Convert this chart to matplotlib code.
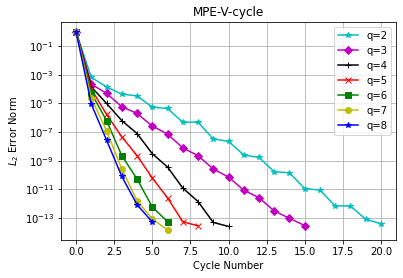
import numpy as np
import matplotlib
matplotlib.use("Agg")
import matplotlib.pyplot as plt
from matplotlib.ticker import NullLocator

labels = ["q=2", "q=3", "q=4", "q=5", "q=6", "q=7", "q=8"]
fmts = ["c*-", "mD-", "k+-", "rx-", "gs-", "yo-", "b*-"]

# log10 of error norm per cycle
q2 = [0.0, -3.18, -3.84, -4.35, -4.47, -5.26, -5.35, -6.31, -6.31, -7.48, -7.65,
      -8.6, -8.77, -9.77, -9.84, -10.95, -11.05, -12.16, -12.16, -13.09, -13.4]
q3 = [0.0, -3.65, -4.3, -5.23, -5.7, -6.58, -7.14, -8.1, -8.65, -9.58, -10.14,
      -11.06, -11.58, -12.51, -13.02, -13.53]
q4 = [0.0, -3.84, -5.0, -6.2, -7.1, -8.51, -9.44, -10.91, -11.85, -13.31, -13.59]
q5 = [0.0, -4.0, -5.77, -7.33, -8.65, -10.2, -11.6, -13.26, -13.55]
q6 = [0.0, -4.28, -6.2, -8.65, -10.28, -12.23, -13.26]
q7 = [0.0, -4.63, -6.91, -9.58, -11.79, -13.07, -13.84]
q8 = [0.0, -5.05, -7.56, -10.1, -12.07, -13.28]
series = [q2, q3, q4, q5, q6, q7, q8]

fig, ax = plt.subplots(figsize=(403 / 72, 278 / 72), dpi=72)
fig.subplots_adjust(left=0.151, right=0.983, top=0.921, bottom=0.137)

for s, f, lab in zip(series, fmts, labels):
    x = np.arange(len(s))
    ax.semilogy(x, 10.0 ** np.array(s), f, label=lab)

ax.set_yticks(10.0 ** np.arange(-13, 0, 2))
ax.yaxis.set_minor_locator(NullLocator())
ax.grid(True)
ax.set_title("MPE-V-cycle")
ax.set_xlabel("Cycle Number")
ax.set_ylabel("$L_2$ Error Norm")
ax.legend(loc="upper right")
fig.savefig("out.png", dpi=72)
